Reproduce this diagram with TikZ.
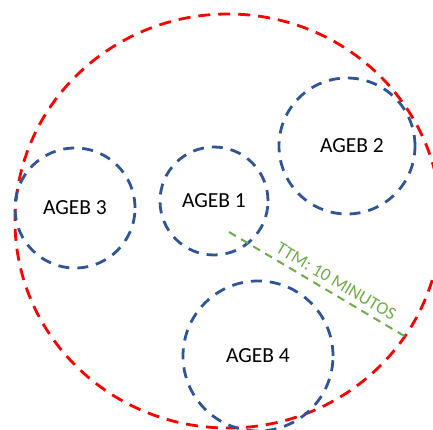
\documentclass[tikz,border=0pt]{standalone}
\usepackage{fontspec}
\setmainfont{Carlito}
\definecolor{zonared}{RGB}{255,0,0}
\definecolor{agebblue}{RGB}{47,85,151}
\definecolor{ttmgreen}{RGB}{112,173,71}

\begin{document}
\begin{tikzpicture}[x=1pt,y=-1pt,
    ageb/.style={circle,draw=agebblue,line width=2.8pt,dash pattern=on 11pt off 8pt,
        font=\fontsize{21.5}{25}\selectfont},
    zone/.style={draw=zonared,line width=2.8pt,dash pattern=on 12pt off 8pt},
    ttm/.style={draw=ttmgreen,line width=2pt,dash pattern=on 8pt off 6pt}]

% Frame of the picture
\clip (0,0) rectangle (433,430);

% Outer zone (red)
\draw[zone] (228,221) ellipse[x radius=213,y radius=207];

% The AGEB circles
\node[ageb,minimum size=108pt] (ageb1) at (214,201) {AGEB 1};
\node[ageb,minimum size=136pt] (ageb2) at (347,146) {\hspace{10pt}AGEB 2};
\node[ageb,minimum size=120pt] (ageb3) at (75,208) {AGEB 3};
\node[ageb,minimum size=150pt] (ageb4) at (258,356) {AGEB 4};

% Travel time line
\coordinate (ttmstart) at (229,232);
\coordinate (ttmend) at (406,337);
\draw[ttm] (ttmstart) -- (ttmend)
    node[pos=0.57,sloped,above=2pt,text=ttmgreen,font=\fontsize{18}{21}\selectfont] (ttmlabel) {TTM: 10 MINUTOS};

\end{tikzpicture}
\end{document}
